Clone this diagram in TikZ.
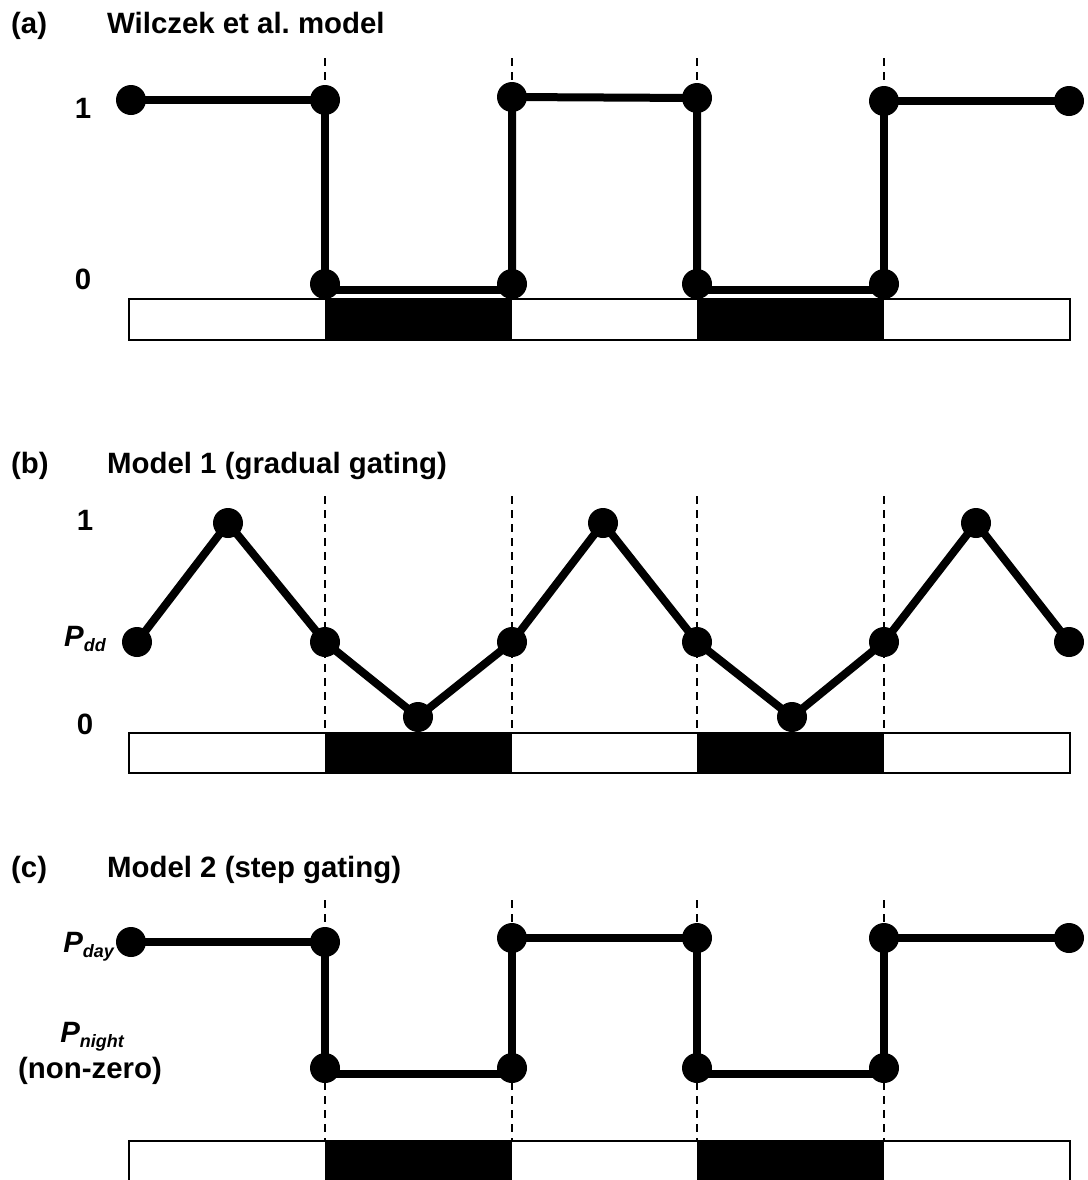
\documentclass[tikz,border=0pt]{standalone}
\usepackage{fontspec}
\setmainfont{Liberation Sans}
\usetikzlibrary{backgrounds}
\frenchspacing
% probability symbol with an italic subscript
\newcommand\Psub[1]{\textit{P}\raisebox{-6pt}{\fontsize{18}{18}\selectfont\itshape #1}}
\begin{document}
\begin{tikzpicture}[x=1bp,y=-1bp,
  dot/.style={circle,fill=black,inner sep=0pt,minimum size=30bp},
  trace/.style={line width=8bp},
  gate/.style={line width=2.4bp,dash pattern=on 8bp off 6bp},
  daybar/.style={draw=black,line width=2.2bp,fill=white},
  nightbar/.style={fill=black},
  lbl/.style={font=\fontsize{29.5}{31}\selectfont\bfseries,inner sep=0pt},
  lowshift/.style={yshift=-6bp},
]
\useasboundingbox (0,0) rectangle (1088,1180);
\clip (0,0) rectangle (1088,1180);

% ---------------- titles ----------------
\node[lbl,anchor=base west] (ta) at (11,33) {(a)};
\node[lbl,anchor=base west] (tta) at (107,33) {Wilczek et al. model};
\node[lbl,anchor=base west] (tb) at (11,473) {(b)};
\node[lbl,anchor=base west] (ttb) at (107,473) {Model 1 (gradual gating)};
\node[lbl,anchor=base west] (tc) at (11,877) {(c)};
\node[lbl,anchor=base west] (ttc) at (107,877) {Model 2 (step gating)};

% ---------------- axis labels ----------------
\node[lbl,anchor=base] (ya1) at (83,118) {1};
\node[lbl,anchor=base] (ya0) at (83,289) {0};
\node[lbl,anchor=base] (yb1) at (85,530) {1};
\node[lbl,anchor=base] (yb0) at (85,734) {0};
\node[lbl,anchor=base east] (ybp) at (106,646) {\Psub{dd}};
\node[lbl,anchor=base east] (ycd) at (114,952) {\Psub{day}};
\node[lbl,anchor=base] (ycn) at (92,1042) {\Psub{night}};
\node[lbl,anchor=base] (ycz) at (90,1078) {(non-zero)};

% ---------------- (a) Wilczek et al. ----------------
\node[dot] (a1) at (131,100) {};
\node[dot] (a2) at (325,100) {};
\node[dot] (a3) at (325,284) {};
\node[dot] (a4) at (512,284) {};
\node[dot] (a5) at (512,97) {};
\node[dot] (a6) at (697,98) {};
\node[dot] (a7) at (697,284) {};
\node[dot] (a8) at (884,284) {};
\node[dot] (a9) at (884,101) {};
\node[dot] (a10) at (1069,101) {};

% ---------------- (b) gradual gating ----------------
\node[dot] (b1) at (137,642) {};
\node[dot] (b2) at (228,523) {};
\node[dot] (b3) at (325,642) {};
\node[dot] (b4) at (418,717) {};
\node[dot] (b5) at (512,642) {};
\node[dot] (b6) at (603,523) {};
\node[dot] (b7) at (697,642) {};
\node[dot] (b8) at (792,717) {};
\node[dot] (b9) at (884,642) {};
\node[dot] (b10) at (976,523) {};
\node[dot] (b11) at (1069,642) {};

% ---------------- (c) step gating ----------------
\node[dot] (c1) at (131,942) {};
\node[dot] (c2) at (325,942) {};
\node[dot] (c3) at (325,1068) {};
\node[dot] (c4) at (512,1068) {};
\node[dot] (c5) at (512,938) {};
\node[dot] (c6) at (697,938) {};
\node[dot] (c7) at (697,1068) {};
\node[dot] (c8) at (884,1068) {};
\node[dot] (c9) at (884,938) {};
\node[dot] (c10) at (1069,938) {};

\begin{scope}[on background layer]
  % light/dark bars
  \draw[daybar] (129,299) rectangle (1070,340);
  \fill[nightbar] (325,299) rectangle (512,340);
  \fill[nightbar] (697,299) rectangle (884,340);
  \draw[daybar] (129,733) rectangle (1070,773);
  \fill[nightbar] (325,733) rectangle (512,773);
  \fill[nightbar] (697,733) rectangle (884,773);
  \draw[daybar] (129,1141) rectangle (1070,1200);
  \fill[nightbar] (325,1141) rectangle (512,1200);
  \fill[nightbar] (697,1141) rectangle (884,1200);

  % light/dark boundaries
  \foreach \x/\n in {325/a2,512/a5,697/a6,884/a9}
    \draw[gate] (\x,58) -- (\n.center);
  \foreach \x in {325,512,697,884}
    \draw[gate] (\x,496) -- (\x,733);
  \foreach \x in {325,512,697,884}
    \draw[gate] (\x,900) -- (\x,1141);

  % traces
  \draw[trace] (a1.center) -- (a2.center) -- (a3.center);
  \draw[trace] ([lowshift]a3.center) -- ([lowshift]a4.center);
  \draw[trace] (a4.center) -- (a5.center) -- (a6.center) -- (a7.center);
  \draw[trace] ([lowshift]a7.center) -- ([lowshift]a8.center);
  \draw[trace] (a8.center) -- (a9.center) -- (a10.center);

  \draw[trace] (b1.center) -- (b2.center) -- (b3.center) -- (b4.center)
    -- (b5.center) -- (b6.center) -- (b7.center) -- (b8.center)
    -- (b9.center) -- (b10.center) -- (b11.center);

  \draw[trace] (c1.center) -- (c2.center) -- (c3.center);
  \draw[trace] ([lowshift]c3.center) -- ([lowshift]c4.center);
  \draw[trace] (c4.center) -- (c5.center) -- (c6.center) -- (c7.center);
  \draw[trace] ([lowshift]c7.center) -- ([lowshift]c8.center);
  \draw[trace] (c8.center) -- (c9.center) -- (c10.center);
\end{scope}
\end{tikzpicture}
\end{document}
